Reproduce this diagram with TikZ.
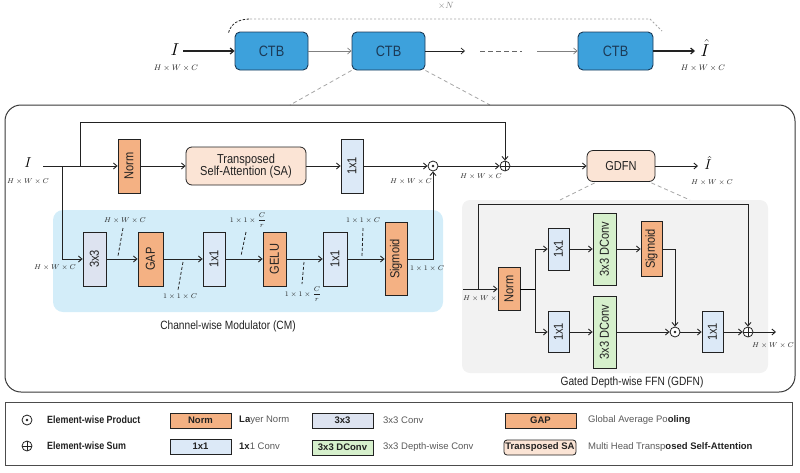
\documentclass[tikz,border=0pt]{standalone}
\usepackage{amsmath}
\usepackage{fontspec}
\setmainfont{Liberation Sans}
\newfontfamily\narrowsf{Liberation Sans}[FakeStretch=0.85]
\usetikzlibrary{arrows.meta}
\definecolor{ctbc}{HTML}{3DA1DC}
\definecolor{ctbline}{HTML}{1B3A57}
\definecolor{salmonc}{HTML}{F4B183}
\definecolor{peachc}{HTML}{FBE4D5}
\definecolor{lbluec}{HTML}{DCE9F7}
\definecolor{lavc}{HTML}{DDE3F0}
\definecolor{greenc}{HTML}{D6F0CC}
\definecolor{cmc}{HTML}{D3EDF9}
\definecolor{gdfnc}{HTML}{F2F2F2}
\definecolor{linec}{HTML}{222222}
\definecolor{txtc}{HTML}{222222}
\definecolor{descc}{HTML}{5A5A5A}
\tikzset{
  arr/.style={-{Straight Barb[length=3.5pt,width=6pt]}, line width=.9pt, draw=linec},
  sz/.style 2 args={minimum width=#1, minimum height=#2},
  blk/.style={draw=linec, line width=.8pt, inner sep=0pt, text=txtc, font=\narrowsf\fontsize{13}{13}\selectfont},
  salmon/.style={blk, fill=salmonc},
  peach/.style={blk, fill=peachc, rounded corners=6pt},
  lblue/.style={blk, fill=lbluec},
  lav/.style={blk, fill=lavc},
  green/.style={blk, fill=greenc},
  ctb/.style={draw=ctbline, line width=.9pt, fill=ctbc, rounded corners=5pt, text=ctbline, font=\narrowsf\fontsize{15}{15}\selectfont},
  prod/.style={circle, draw=linec, line width=.8pt, minimum size=10pt, inner sep=0pt, fill=white,
    path picture={\fill[linec] (path picture bounding box.center) circle (1.3pt);}},
  sum/.style={circle, draw=linec, line width=.8pt, minimum size=10pt, inner sep=0pt, fill=white,
    path picture={\draw[linec, line width=.8pt] (path picture bounding box.north) -- (path picture bounding box.south)
      (path picture bounding box.west) -- (path picture bounding box.east);}},
  dim/.style={font=\fontsize{7}{7.5}\selectfont, text=txtc, inner sep=1pt},
  tick/.style={draw=linec, line width=.8pt, dash pattern=on 3pt off 2pt},
  zoomline/.style={draw=gray!70, line width=.8pt, dash pattern=on 4pt off 3pt},
  captext/.style={font=\narrowsf\fontsize{12}{12}\selectfont, text=txtc},
  bigI/.style={inner sep=0pt, font=\fontsize{#1}{#1}\selectfont},
  lgbox/.style={draw=linec, line width=.8pt, inner sep=0pt, sz={61}{15}, text=txtc, font=\fontsize{9.5}{9.5}\selectfont\bfseries},
  lgtxt/.style={anchor=west, inner sep=0pt, text=descc, font=\fontsize{9.5}{9.5}\selectfont},
  lgsym/.style={anchor=west, inner sep=0pt, text=txtc, font=\narrowsf\fontsize{10.5}{10.5}\selectfont\bfseries},
}
\begin{document}
\begin{tikzpicture}[x=1pt, y=-1pt]
\useasboundingbox (0,0) rectangle (800,472);
\node[ctb, sz={73}{38}] (ctbA) at (271.5,51) {CTB};
\node[ctb, sz={73}{38}] (ctbB) at (388.5,51) {CTB};
\node[ctb, sz={75}{38}] (ctbC) at (615.5,51) {CTB};
\node[bigI=18] (inI) at (175,50) {$I$};
\node[dim, font=\fontsize{8.5}{8.5}\selectfont] (inDim) at (176,68) {$H\times W\times C$};
\node[bigI=18] (outI) at (705,48) {$\hat{I}$};
\node[dim, font=\fontsize{8.5}{8.5}\selectfont] (outDim) at (703,68) {$H\times W\times C$};
\node[text=gray, font=\fontsize{9}{9}\selectfont] (nLab) at (446,6) {$\times N$};
\coordinate (dotA) at (465,51);
\coordinate (dashA) at (480,51);
\coordinate (dashB) at (522,51);
\coordinate (dotB) at (537,51);
\draw[arr, line width=1.2pt] (183,51) -- (ctbA.west);
\draw[arr, draw=gray, line width=.7pt] (ctbA) -- (ctbB);
\draw[arr, line width=.7pt] (ctbB) -- (dotA);
\draw[draw=gray!80!black, line width=.8pt, dash pattern=on 5pt off 3pt] (dashA) -- (dashB);
\draw[arr, draw=gray, line width=.7pt] (dotB) -- (ctbC);
\draw[arr, line width=1.2pt] (ctbC.east) -- (695,51);
\coordinate (loopA) at (250,19);
\coordinate (loopB) at (650,19);
\coordinate (loopC) at (662,31);
\draw[linec, line width=.8pt, dash pattern=on 2.5pt off 1.5pt] (ctbA.north west) ++(-6,1) .. controls (231,24) and (238,19) .. (loopA);
\draw[gray!70, line width=.8pt, dash pattern=on 2pt off 2pt] (loopA) -- (loopB) -- (loopC);
\coordinate (panL) at (290,105);
\coordinate (panR) at (490,105);
\draw[zoomline] (ctbB.south west) -- (panL);
\draw[zoomline] (ctbB.south east) -- (panR);
\draw[draw=linec!90, line width=1pt, rounded corners=16pt] (5,105) rectangle (795,392);
\fill[cmc, rounded corners=10pt] (53,210) rectangle (443,312);
\fill[gdfnc, rounded corners=8pt] (462,200) rectangle (768,373);
\node[bigI=15] (pI) at (28,163) {$I$};
\node[dim] (pDim) at (28,182) {$H\times W\times C$};
\node[salmon, sz={22}{54}] (normA) at (129,166) {\rotatebox{90}{Norm}};
\node[peach, sz={120}{38}, align=center] (saA) at (246,166) {Transposed\\[-1pt]Self-Attention (SA)};
\node[lblue, sz={22}{54}] (oneA) at (352,166) {\rotatebox{90}{1x1}};
\node[prod] (prodA) at (433,166) {};
\node[sum] (sumA) at (505,166) {};
\node[peach, sz={68}{31}] (gdfn) at (621,166) {GDFN};
\node[bigI=15] (outI2) at (708,163) {$\hat{I}$};
\node[dim] (prodDim) at (411,182) {$H\times W\times C$};
\node[dim] (sumDim) at (481,177) {$H\times W\times C$};
\node[dim] (outDim2) at (712,183) {$H\times W\times C$};
\coordinate (inStart) at (43,166);
\coordinate (spA) at (80,166);
\coordinate (topL) at (80,122);
\coordinate (spB) at (62,166);
\draw[arr] (inStart) -- (normA);
\draw[arr] (spA) -- (topL) -| (sumA.north);
\draw[arr] (normA) -- (saA);
\draw[arr] (saA) -- (oneA);
\draw[arr] (oneA) -- (prodA);
\draw[arr] (prodA) -- (sumA);
\draw[arr] (sumA) -- (gdfn);
\draw[arr] (gdfn.east) -- (698,166);
\node[lav, sz={23}{54}] (c33) at (94.5,259) {\rotatebox{90}{3x3}};
\node[salmon, sz={25}{54}] (gap) at (150.5,259) {\rotatebox{90}{GAP}};
\node[lblue, sz={22}{54}] (oneB) at (214,259) {\rotatebox{90}{1x1}};
\node[salmon, sz={23}{54}] (gelu) at (274.5,259) {\rotatebox{90}{GELU}};
\node[lblue, sz={24}{54}] (oneC) at (335,259) {\rotatebox{90}{1x1}};
\node[salmon, sz={22}{73}] (sig) at (396,259) {\rotatebox{90}{Sigmoid}};
\draw[arr] (spB) |- (c33.west);
\draw[arr] (c33) -- (gap);
\draw[arr] (gap) -- (oneB);
\draw[arr] (oneB) -- (gelu);
\draw[arr] (gelu) -- (oneC);
\draw[arr] (oneC) -- (sig);
\draw[arr] (sig.east) -| (prodA.south);
\node[dim] (cmIn) at (55,268) {$H\times W\times C$};
\node[dim] (sigDim) at (427,269) {$1\times1\times C$};
\foreach \n/\x/\y/\t/\xs/\ys/\xe/\ye in {
  cA/125/221/{H\times W\times C}/123/228/118/256,
  cB/180/297/{1\times1\times C}/183/262/178/290,
  cC/248/220/{1\times1\times\dfrac{C}{r}}/246/232/241/256,
  cD/303/294/{1\times1\times\dfrac{C}{r}}/304/262/302/284,
  cE/363/221/{1\times1\times C}/363/228/362/256}{
  \node[dim] (\n) at (\x,\y) {$\t$};
  \coordinate (\n s) at (\xs,\ys);
  \coordinate (\n e) at (\xe,\ye);
  \draw[tick] (\n s) -- (\n e);
}
\node[captext] (cmLabel) at (228,326) {Channel-wise Modulator (CM)};
\coordinate (gzL) at (560,200);
\coordinate (gzR) at (690,200);
\draw[zoomline] (gdfn.south west) ++(8,1) -- (gzL);
\draw[zoomline] (gdfn.south east) ++(-4,1) -- (gzR);
\node[dim] (gInDim) at (484,299) {$H\times W\times C$};
\node[salmon, sz={22}{43}] (gNorm) at (509,289) {\rotatebox{90}{Norm}};
\node[lblue, sz={21}{42}] (gOneA) at (558.5,249) {\rotatebox{90}{1x1}};
\node[green, sz={23}{72}] (gDcA) at (604.5,249) {\rotatebox{90}{3x3 DConv}};
\node[salmon, sz={21}{55}] (gSig) at (651.5,249) {\rotatebox{90}{Sigmoid}};
\node[lblue, sz={21}{41}] (gOneB) at (558.5,332) {\rotatebox{90}{1x1}};
\node[green, sz={23}{72}] (gDcB) at (604.5,332) {\rotatebox{90}{3x3 DConv}};
\node[prod] (gProd) at (675,332) {};
\node[lblue, sz={21}{41}] (gOneC) at (712.5,332) {\rotatebox{90}{1x1}};
\node[sum] (sumB) at (748,332) {};
\node[dim] (gOutDim) at (773,346) {$H\times W\times C$};
\coordinate (gIn) at (463,289);
\coordinate (gSk) at (478,289);
\coordinate (gTop) at (748,204);
\coordinate (gBr) at (535,289);
\coordinate (gOut) at (776,332);
\draw[arr] (gIn) -- (gNorm);
\draw[arr] (gSk) |- (gTop) -- (sumB.north);
\draw (gNorm.east) -- (gBr);
\draw[arr] (gBr) |- (gOneA.west);
\draw[arr] (gBr) |- (gOneB.west);
\draw[arr] (gOneA) -- (gDcA);
\draw[arr] (gDcA) -- (gSig);
\draw[arr] (gSig.east) -| (gProd.north);
\draw[arr] (gOneB) -- (gDcB);
\draw[arr] (gDcB) -- (gProd);
\draw[arr] (gProd) -- (gOneC);
\draw[arr] (gOneC) -- (sumB);
\draw[arr] (sumB) -- (gOut);
\node[captext] (gdfnLabel) at (632,382) {Gated Depth-wise FFN (GDFN)};
\draw[draw=gray!60!black, line width=.9pt, fill=white] (5,402) rectangle (792,465);
\node[prod] (lgProd) at (27,420) {};
\node[sum] (lgSum) at (27,446) {};
\node[lgsym] (lgProdT) at (47,420) {Element-wise Product};
\node[lgsym] (lgSumT) at (47,446) {Element-wise Sum};
\node[lgbox, fill=salmonc] (lgNorm) at (200.5,420.5) {Norm};
\node[lgbox, fill=lbluec] (lgOne) at (200.5,446.5) {1x1};
\node[lgbox, fill=lavc] (lg33) at (342.5,420.5) {3x3};
\node[lgbox, fill=greenc] (lgDc) at (342.5,447.5) {3x3 DConv};
\node[lgbox, fill=salmonc, sz={71}{15}] (lgGap) at (540.5,420.5) {GAP};
\node[lgbox, fill=peachc, sz={72}{15}, rounded corners=3pt] (lgSA) at (540,447.5) {Transposed SA};
\node[lgtxt] (lgNormT) at (239,420.5) {\textcolor{txtc}{\bfseries La}yer Norm};
\node[lgtxt] (lgOneT) at (239,446.5) {\textcolor{txtc}{\bfseries 1x}1 Conv};
\node[lgtxt] (lg33T) at (383,420.5) {3x3 Conv};
\node[lgtxt] (lgDcT) at (383,447.5) {3x3 Depth-wise Conv};
\node[lgtxt] (lgGapT) at (588,420.5) {Global Average Po\textcolor{txtc}{\bfseries oling}};
\node[lgtxt] (lgSAT) at (588,447.5) {Multi Head Transp\textcolor{txtc}{\bfseries osed Self-Attention}};
\end{tikzpicture}
\end{document}
